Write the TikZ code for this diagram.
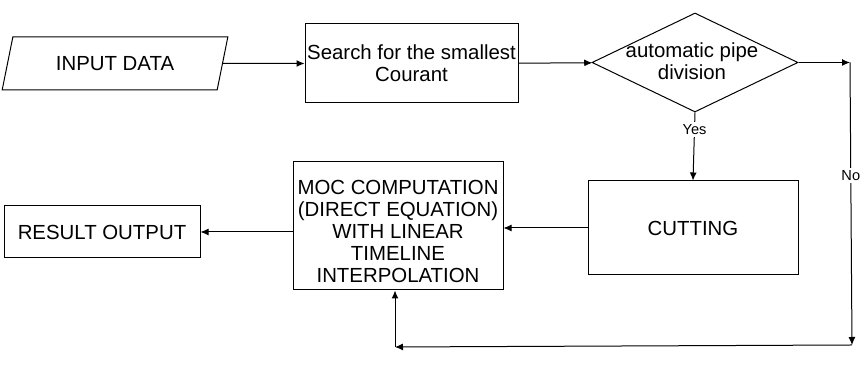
\documentclass[tikz,border=0pt]{standalone}
\usepackage{fontspec}
\setmainfont{Liberation Sans}
\usetikzlibrary{arrows.meta,shapes.geometric}
\begin{document}
\begin{tikzpicture}[x=0.5pt,y=-0.5pt,
  every node/.style={font=\fontsize{10.2}{11}\selectfont, align=center, inner sep=0pt},
  flowbox/.style={draw, line width=0.5pt, rectangle},
  tag/.style={fill=white, inner sep=1pt, font=\fontsize{7.3}{8}\selectfont},
  link/.style={line width=0.5pt, -{Latex[length=4pt,width=3.5pt]}}]
\useasboundingbox (0,0) rectangle (864,383);
\node[trapezium, draw, line width=0.5pt, trapezium left angle=66.5, trapezium right angle=113.5, trapezium stretches=true, minimum width=113pt, minimum height=26.5pt] (inputdata) at (115,63.5){INPUT DATA};
\node[flowbox, minimum width=106.5pt, minimum height=39.5pt] (search) at (411.5,63.5){Search for the smallest\\Courant};
\node[diamond, draw, line width=0.5pt, minimum width=103pt, minimum height=49.5pt] (pipediv) at (695,62.5){};
\node (pipetxt) at (692,61){automatic pipe\\division};
\node[flowbox, minimum width=105pt, minimum height=47pt] (cutting) at (693,228){CUTTING};
\node[flowbox, minimum width=105pt, minimum height=64pt] (moc) at (398,226){};
\node (moctxt) at (398,231){MOC COMPUTATION\\(DIRECT EQUATION)\\WITH LINEAR\\TIMELINE\\INTERPOLATION};
\node[flowbox, minimum width=98pt, minimum height=26pt] (result) at (102,232){RESULT OUTPUT};
\coordinate (nocorner) at (850,62.5);
\coordinate (nodown) at (852,345);
\coordinate (loopcorner) at (395,347);
\draw[link] (inputdata) -- (search);
\draw[link] (search) -- (pipediv);
\draw[link] (pipediv.south) -- node[tag, pos=0.25]{Yes} (cutting.north);
\draw[link] (pipediv.east) -- (nocorner);
\draw[link] (nocorner) -- node[tag, pos=0.4]{No} (nodown);
\draw[link] (nodown) -- (loopcorner);
\draw[link] (loopcorner) -- (loopcorner |- moc.south);
\draw[link] (cutting.west) -- (cutting.west -| moc.east);
\draw[link] (moc.west |- result) -- (result.east);
\end{tikzpicture}
\end{document}
